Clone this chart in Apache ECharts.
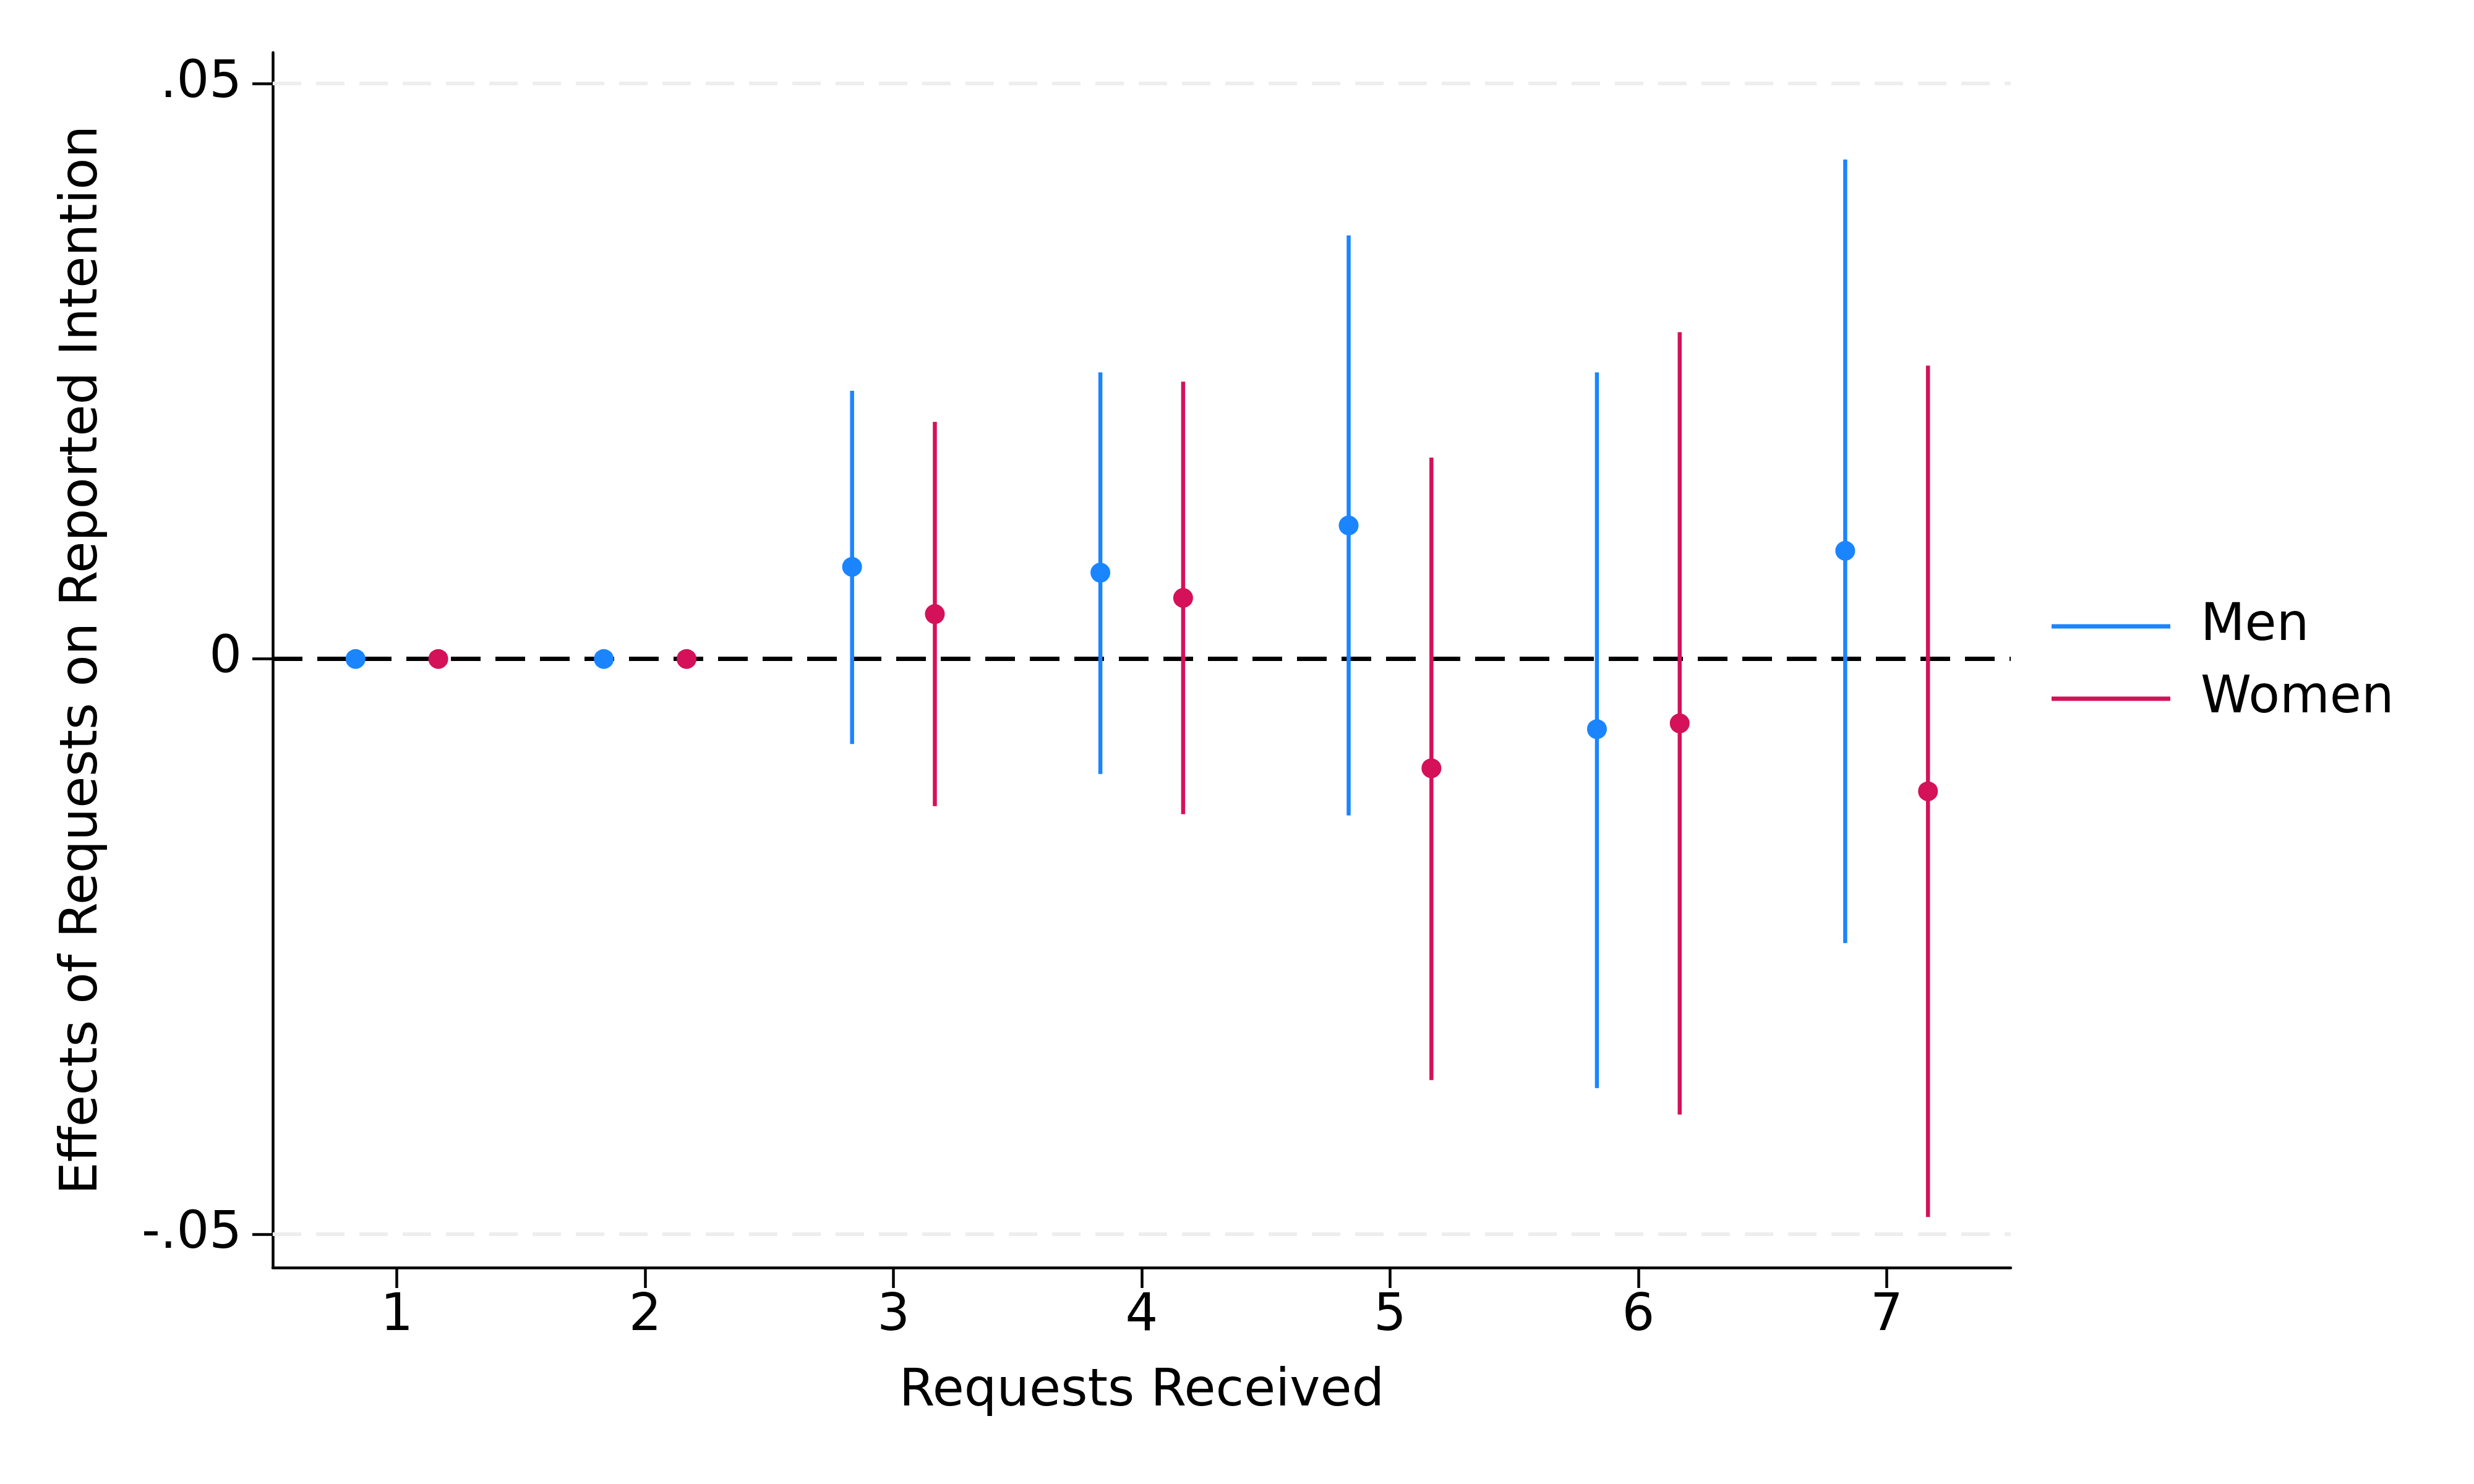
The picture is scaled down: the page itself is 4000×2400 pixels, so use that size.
<!DOCTYPE html>
<html>
<head>
<meta charset="utf-8">
<script src="https://cdn.jsdelivr.net/npm/echarts@6/dist/echarts.min.js"></script>
<style>
  html, body { margin: 0; padding: 0; background: #ffffff; }
  #chart { width: 4000px; height: 2400px; }
</style>
</head>
<body>
<div id="chart"></div>
<script>
// ---- data ----
const requests = [1, 2, 3, 4, 5, 6, 7];
const menEst   = [0, 0, 0.0080, 0.0075, 0.0116, -0.0061, 0.0094];
const menLo    = [null, null, -0.0074, -0.0100, -0.0136, -0.0373, -0.0247];
const menHi    = [null, null, 0.0233, 0.0249, 0.0368, 0.0249, 0.0434];
const womenEst = [0, 0, 0.0039, 0.0053, -0.0095, -0.0056, -0.0115];
const womenLo  = [null, null, -0.0128, -0.0135, -0.0366, -0.0396, -0.0485];
const womenHi  = [null, null, 0.0206, 0.0241, 0.0175, 0.0284, 0.0255];
const yTickValues = [-0.05, 0, 0.05];
const yTickLabels = ['-.05', '0', '.05'];
const xTickValues = [1, 2, 3, 4, 5, 6, 7];
const xTickLabels = ['1', '2', '3', '4', '5', '6', '7'];
const seriesNames = ['Men', 'Women'];

// ---- styling ----
const COLORS = ['#1a85ff', '#d41159'];
const FONT = 'DejaVu Sans';
const FS = 83;
const dodge = 1 / 6;

function build(est, lo, hi, off) {
  return requests.map((r, i) => [r + off, est[i], lo[i] == null ? NaN : lo[i], hi[i] == null ? NaN : hi[i]]);
}

function makeRender(color) {
  return function (params, api) {
    const x = api.value(0), y = api.value(1), lo = api.value(2), hi = api.value(3);
    const children = [];
    if (isFinite(lo) && isFinite(hi)) {
      const p1 = api.coord([x, lo]);
      const p2 = api.coord([x, hi]);
      children.push({
        type: 'line',
        shape: { x1: p1[0], y1: p1[1], x2: p2[0], y2: p2[1] },
        style: { stroke: color, lineWidth: 6.5 }
      });
    }
    const c = api.coord([x, y]);
    children.push({
      type: 'circle',
      shape: { cx: c[0], cy: c[1], r: 16 },
      style: { fill: color }
    });
    return { type: 'group', children: children };
  };
}

const chart = echarts.init(document.getElementById('chart'), null, { renderer: 'canvas', devicePixelRatio: 1 });

const axisCommon = {
  axisLine: { show: true, onZero: false, lineStyle: { color: '#000', width: 4.5 } },
  axisTick: { show: true, inside: false, length: 33, lineStyle: { color: '#000', width: 4.5 } },
  splitLine: { show: false },
  nameTextStyle: { fontFamily: FONT, fontSize: FS, color: '#000' }
};

chart.setOption({
  backgroundColor: '#ffffff',
  animation: false,
  textStyle: { fontFamily: FONT },
  grid: { left: 441, top: 85, right: 749, bottom: 350, containLabel: false },
  xAxis: Object.assign({}, axisCommon, {
    type: 'value',
    min: 0.5,
    max: 7.5,
    name: 'Requests Received',
    nameLocation: 'middle',
    nameGap: 160,
    axisTick: Object.assign({}, axisCommon.axisTick, { customValues: xTickValues }),
    axisLabel: {
      customValues: xTickValues,
      margin: 38,
      fontFamily: FONT, fontSize: FS, color: '#000',
      formatter: v => xTickLabels[xTickValues.indexOf(v)]
    }
  }),
  yAxis: Object.assign({}, axisCommon, {
    type: 'value',
    min: -0.0529,
    max: 0.0527,
    name: 'Effects of Requests on Reported Intention',
    nameLocation: 'middle',
    nameRotate: 90,
    nameGap: 265,
    axisTick: Object.assign({}, axisCommon.axisTick, { customValues: yTickValues }),
    axisLabel: {
      customValues: yTickValues,
      margin: 50,
      fontFamily: FONT, fontSize: FS, color: '#000',
      formatter: v => yTickLabels[yTickValues.indexOf(v)]
    }
  }),
  legend: {
    orient: 'vertical',
    left: 3312,
    top: 958,
    itemWidth: 192,
    itemHeight: 7,
    itemGap: 17,
    data: seriesNames.map(n => ({ name: n, icon: 'rect' })),
    textStyle: { fontFamily: FONT, fontSize: FS, color: '#000', lineHeight: 100, padding: [0, 0, 0, 44] }
  },
  series: [
    {
      name: seriesNames[0],
      type: 'custom',
      z: 3,
      itemStyle: { color: COLORS[0] },
      encode: { x: 0, y: 1 },
      data: build(menEst, menLo, menHi, -dodge),
      renderItem: makeRender(COLORS[0]),
      markLine: {
        silent: true,
        symbol: 'none',
        z: 1,
        label: { show: false },
        data: [
          { yAxis: yTickValues[0], lineStyle: { color: '#eeeeee', width: 6, type: [46, 24] } },
          { yAxis: yTickValues[2], lineStyle: { color: '#eeeeee', width: 6, type: [46, 24] } },
          { yAxis: yTickValues[1], lineStyle: { color: '#000000', width: 7, type: [48, 24] } }
        ]
      }
    },
    {
      name: seriesNames[1],
      type: 'custom',
      z: 3,
      itemStyle: { color: COLORS[1] },
      encode: { x: 0, y: 1 },
      data: build(womenEst, womenLo, womenHi, dodge),
      renderItem: makeRender(COLORS[1])
    }
  ]
});
</script>
</body>
</html>
